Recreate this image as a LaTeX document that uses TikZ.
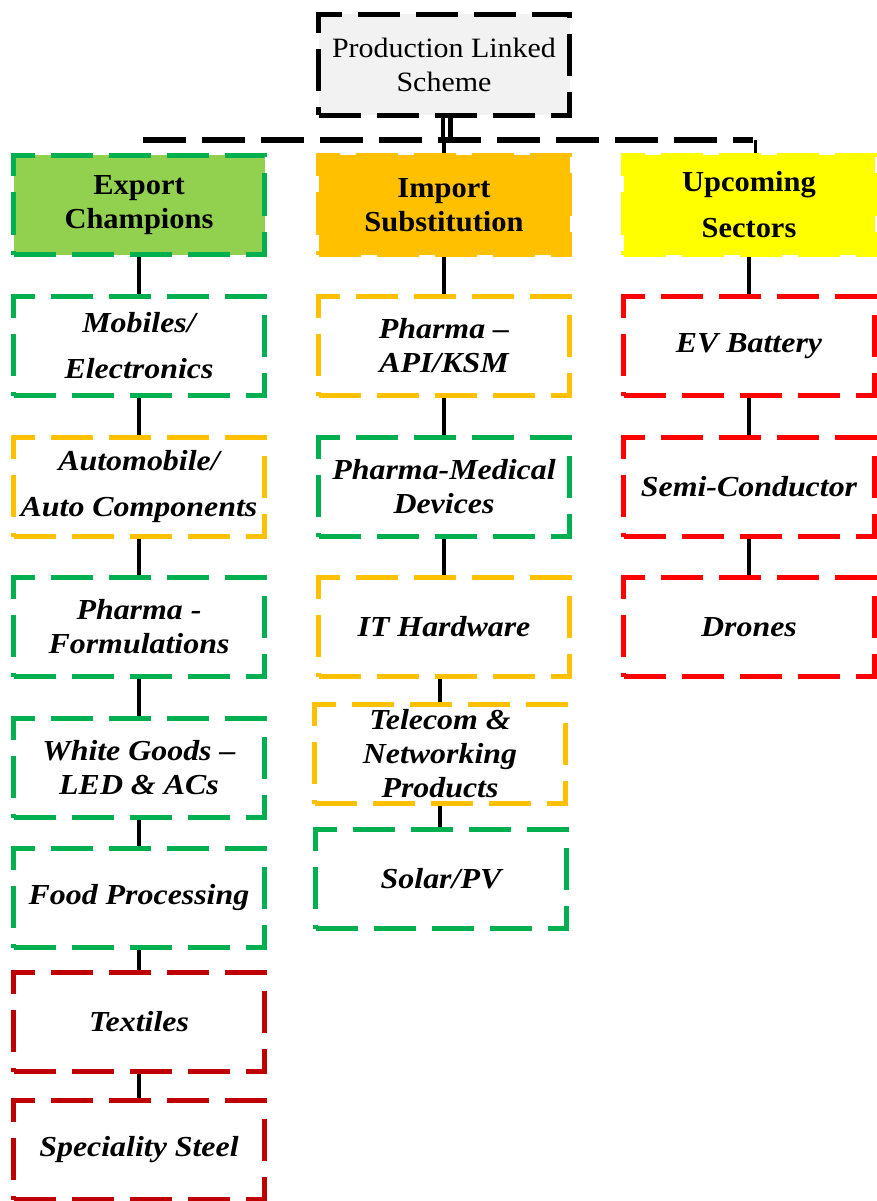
\documentclass[tikz,border=0pt]{standalone}
\usepackage{fontspec}
\setmainfont{Liberation Serif}
\newfontfamily\itemfamily[FakeStretch=1.1,Ligatures=TeX]{Liberation Serif}
\newfontfamily\headfamily[FakeStretch=1.05,Ligatures=TeX]{Liberation Serif}
\newfontfamily\topfamily[FakeStretch=1.07,Ligatures=TeX]{Liberation Serif}
\definecolor{cgreen}{HTML}{00B050}
\definecolor{corange}{HTML}{FFC000}
\definecolor{cdred}{HTML}{C00000}
\definecolor{cred}{HTML}{FF0000}
\definecolor{lgreen}{HTML}{92D050}
\definecolor{cyellow}{HTML}{FFFF00}
\definecolor{lgray}{HTML}{F2F2F2}
\tikzset{
  box/.style={draw, line width=4.5pt, dash pattern=on 42pt off 16pt, minimum width=251pt, minimum height=99pt, align=center, inner sep=2pt, fill=white},
  item/.style={box, font=\itemfamily\fontsize{29}{34}\selectfont\bfseries\itshape},
  itemwide/.style={box, font=\itemfamily\fontsize{29}{46}\selectfont\bfseries\itshape},
  head/.style={box, font=\headfamily\fontsize{29}{34}\selectfont\bfseries},
  conn/.style={draw=black, line width=4pt},
}
\begin{document}
\begin{tikzpicture}[x=1pt,y=1pt]
\useasboundingbox (0,0) rectangle (876,-1201);
% top
\node[box, draw=black, fill=lgray, minimum height=101pt, font=\topfamily\fontsize{28}{34}\selectfont] (top) at (444,-65) {Production Linked\\Scheme};
% level 1
\node[head, draw=cgreen, fill=lgreen] (exp) at (139,-205) {Export\\Champions};
\node[head, draw=corange, fill=corange] (imp) at (444,-205) {Import\\Substitution};
\node[head, draw=cyellow, fill=cyellow, font=\headfamily\fontsize{29}{46}\selectfont\bfseries] (upc) at (749,-205) {Upcoming\\Sectors};
% column 1
\node[itemwide, draw=cgreen] (mob) at (139,-346) {Mobiles/\\Electronics};
\node[itemwide, draw=corange] (aut) at (139,-487) {Automobile/\\Auto Components};
\node[item, draw=cgreen] (phf) at (139,-627) {Pharma -\\Formulations};
\node[item, draw=cgreen] (whg) at (139,-768) {White Goods –\\LED \& ACs};
\node[item, draw=cgreen] (food) at (139,-898) {Food Processing};
\node[item, draw=cdred] (tex) at (139,-1022) {Textiles};
\node[item, draw=cdred] (steel) at (139,-1150) {Speciality Steel};
% column 2
\node[item, draw=corange] (api) at (444,-346) {Pharma –\\API/KSM};
\node[item, draw=cgreen] (med) at (444,-487) {Pharma-Medical\\Devices};
\node[item, draw=corange] (ith) at (444,-627) {IT Hardware};
\node[item, draw=corange] (tel) at (440,-754) {Telecom \&\\Networking\\Products};
\node[item, draw=cgreen] (sol) at (441,-879) {Solar/PV};
% column 3
\node[item, draw=cred] (ev) at (749,-346) {EV Battery};
\node[item, draw=cred] (semi) at (749,-487) {Semi-Conductor};
\node[item, draw=cred] (dro) at (749,-627) {Drones};
% top connectors
\coordinate (hl) at (143,-140);
\coordinate (hr) at (753,-140);
\coordinate (dbl) at ([xshift=2.5pt]top.south |- hl);
\draw[line width=4.5pt, double=white, double distance=3pt] ([xshift=2.5pt]top.south) -- ([yshift=1pt]dbl);
\draw[line width=5.5pt, dash pattern=on 43pt off 16pt] (hl) -- (hr);
\draw[conn] (imp.north) -- (imp.north |- hl);
\draw[conn, line width=3pt] ([xshift=6pt]upc.north) -- ([xshift=6pt]upc.north |- hl);
% column connectors
\draw[conn] (exp.south) -- (mob.north);
\draw[conn] (mob.south) -- (aut.north);
\draw[conn] (aut.south) -- (phf.north);
\draw[conn] (phf.south) -- (whg.north);
\draw[conn] (whg.south) -- (food.north);
\draw[conn] (food.south) -- (tex.north);
\draw[conn] (tex.south) -- (steel.north);
\draw[conn] (imp.south) -- (api.north);
\draw[conn] (api.south) -- (med.north);
\draw[conn] (med.south) -- (ith.north);
\draw[conn] (tel.north) -- (tel.north |- ith.south);
\draw[conn] (tel.south) -- (tel.south |- sol.north);
\draw[conn] (upc.south) -- (ev.north);
\draw[conn] (ev.south) -- (semi.north);
\draw[conn] (semi.south) -- (dro.north);
\end{tikzpicture}
\end{document}
